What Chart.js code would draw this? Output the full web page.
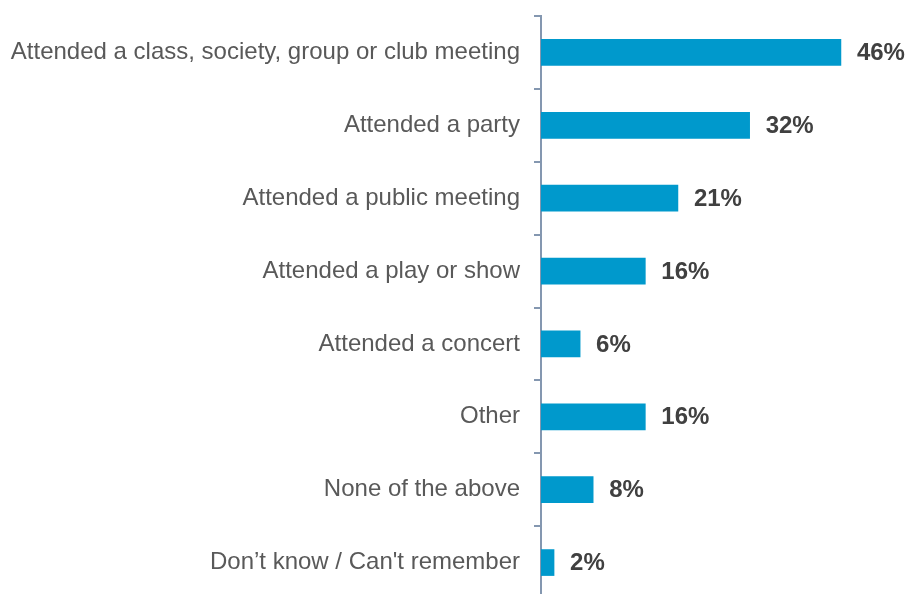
<!DOCTYPE html>
<html>
<head>
<meta charset="utf-8">
<script src="https://cdn.jsdelivr.net/npm/chart.js@4"></script>
<style>
  html, body { margin: 0; padding: 0; background: #fff; overflow: hidden; }
  #wrap { width: 906px; height: 600px; position: relative; }
</style>
</head>
<body>
<div id="wrap"><canvas id="activityChart"></canvas></div>
<script>
// Survey answers and share of respondents (%)
const activities = [
    'Attended a class, society, group or club meeting',
    'Attended a party',
    'Attended a public meeting',
    'Attended a play or show',
    'Attended a concert',
    'Other',
    'None of the above',
    'Don\u2019t know / Can\'t remember'
];
const shares = [46, 32, 21, 16, 6, 16, 8, 2];

const barColor = '#0099cc';
const axisColor = '#8497b0';

// Writes the percentage just past the end of each bar
const valueLabels = {
    id: 'valueLabels',
    afterDatasetsDraw(chart) {
        const ctx = chart.ctx;
        const meta = chart.getDatasetMeta(0);
        ctx.save();
        ctx.font = 'bold 24px "Liberation Sans", Arial, sans-serif';
        ctx.fillStyle = '#404040';
        ctx.textAlign = 'left';
        ctx.textBaseline = 'middle';
        meta.data.forEach((bar, i) => {
            ctx.fillText(shares[i] + '%', bar.x + 16, bar.y + 1);
        });
        ctx.restore();
    }
};

const ctx = document.getElementById('activityChart').getContext('2d');
new Chart(ctx, {
    type: 'bar',
    data: {
        labels: activities,
        datasets: [{
            data: shares,
            backgroundColor: barColor,
            barThickness: 26
        }]
    },
    options: {
        indexAxis: 'y',
        responsive: true,
        maintainAspectRatio: false,
        animation: false,
        layout: { padding: { top: 16, bottom: 1, right: 39 } },
        plugins: {
            legend: { display: false },
            tooltip: { enabled: false }
        },
        scales: {
            x: {
                display: false,
                min: 0,
                max: 50
            },
            y: {
                afterFit(scale) {
                    // fixed axis position, no extra room for the end labels
                    scale.width = 541;
                    scale.paddingTop = 0;
                    scale.paddingBottom = 0;
                },
                grid: {
                    offset: true,
                    drawOnChartArea: false,
                    drawTicks: true,
                    tickLength: 7,
                    color: axisColor,
                    lineWidth: 2
                },
                border: { display: true, color: axisColor, width: 2 },
                ticks: {
                    padding: 14,
                    color: '#595959',
                    font: { family: '"Liberation Sans", Arial, sans-serif', size: 24 }
                }
            }
        }
    },
    plugins: [valueLabels]
});
</script>
</body>
</html>
